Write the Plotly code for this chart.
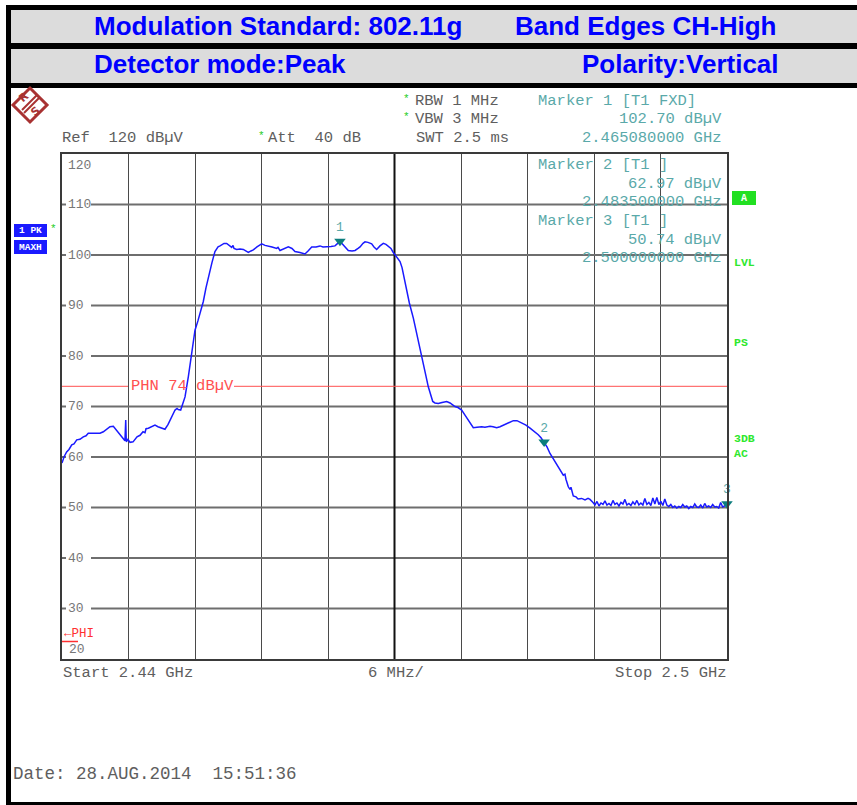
import plotly.graph_objects as go

# ---------------- data ----------------
start_mhz = 2440.0
stop_mhz = 2500.0
div_mhz = 6.0

trace_offset_mhz = [
    0.00, 0.18, 0.42, 0.63, 0.88, 1.08, 1.33, 1.62, 1.92, 2.17, 2.37, 2.71, 3.13, 3.43, 3.73, 4.06,
    4.33, 4.63, 4.94, 5.14, 5.39, 5.59, 5.68, 5.75, 5.80, 5.95, 6.14, 6.41, 6.59, 6.77, 7.04, 7.31,
    7.49, 7.58, 7.79, 8.12, 8.39, 8.66, 9.02, 9.29, 9.56, 9.74, 10.02, 10.20, 10.38, 10.49, 10.71,
    10.92, 11.10, 11.40, 11.70, 12.00, 12.27, 12.45, 12.75, 12.99, 13.20, 13.53, 13.80, 14.08, 14.26,
    14.62, 14.86, 15.07, 15.31, 15.43, 15.52, 15.76, 16.06, 16.36, 16.60, 16.81, 17.05, 17.26, 17.59,
    18.02, 18.32, 18.61, 18.95, 19.37, 19.49, 19.67, 20.03, 20.42, 20.75, 21.02, 21.47, 21.92, 22.20,
    22.53, 22.92, 23.28, 23.55, 23.88, 24.27, 24.63, 24.90, 25.08, 25.38, 25.62, 25.83, 26.17, 26.44,
    26.71, 26.89, 27.16, 27.34, 27.61, 27.94, 28.15, 28.39, 28.69, 28.99, 29.23, 29.44, 29.68, 29.86,
    30.05,
    30.32, 30.50, 30.68, 30.95, 31.34, 31.70, 32.12, 32.60, 32.84, 33.05,
    33.25, 33.45, 33.65, 33.95, 34.29, 34.71, 35.01, 35.46, 35.73, 36.06,
    36.36, 36.66, 36.90, 37.11, 37.44, 37.87, 38.16, 38.62, 38.89, 39.22,
    39.52, 39.97, 40.33, 40.72, 41.05, 41.48, 41.86, 42.23, 42.59, 42.97,
    43.22, 43.49, 43.76, 44.03, 44.30, 44.63, 44.93, 45.23, 45.38, 45.47,
    45.68, 45.83, 45.92, 46.13, 46.38, 46.56, 46.89, 47.19, 47.46, 47.64,
    47.91,
    48.09, 48.27, 48.45, 48.63, 48.81, 48.99, 49.17, 49.35, 49.53, 49.71,
    49.89, 50.07, 50.25, 50.43, 50.61, 50.79, 50.97, 51.15, 51.33, 51.51,
    51.69, 51.87, 52.05, 52.23, 52.41, 52.59, 52.77, 52.95, 53.13, 53.31,
    53.49, 53.67, 53.85, 54.03, 54.21, 54.39, 54.57, 54.75, 54.93, 55.11,
    55.29, 55.47, 55.65, 55.83, 56.01, 56.19, 56.37, 56.55, 56.73, 56.91,
    57.09, 57.27, 57.45, 57.63, 57.81, 57.99, 58.17, 58.35, 58.53, 58.71,
    58.89, 59.07, 59.25, 59.43, 59.61, 59.79, 60.00,
]

trace_level_dbuv = [
    58.8, 60.0, 61.0, 61.5, 62.4, 62.6, 63.4, 63.5, 64.0, 64.2, 64.7, 64.7, 64.8, 64.7, 65.0, 65.5,
    66.0, 66.1, 65.3, 64.7, 64.0, 63.4, 63.2, 67.3, 63.0, 63.5, 62.9, 63.0, 63.4, 64.0, 64.3, 65.0,
    64.8, 65.6, 65.7, 66.0, 66.3, 66.0, 65.8, 65.5, 66.4, 67.3, 68.5, 69.3, 69.6, 69.4, 69.3,
    70.5, 71.9, 75.9, 80.5, 85.1, 87.0, 88.4, 90.8, 93.5, 95.7, 98.5, 100.7, 101.6, 101.8,
    102.3, 102.3, 101.9, 101.5, 101.9, 101.3, 101.1, 101.2, 101.1, 100.7, 100.5, 100.8, 101.0, 101.6,
    102.2, 101.9, 101.8, 101.6, 101.3, 101.5, 100.9, 101.2, 101.6, 101.3, 100.7, 100.5, 100.2, 100.8,
    101.6, 101.6, 101.8, 101.6, 101.6, 101.7, 101.8, 102.3, 102.7, 102.0, 101.3, 100.9, 100.8, 100.9,
    101.3, 101.6, 102.3, 102.6, 102.5, 102.2, 101.6, 101.1, 101.8, 102.3, 102.1, 101.8, 101.3, 100.6,
    100.0,
    99.2, 98.7, 97.5, 94.4, 90.5, 87.5, 83.5, 78.6, 76.0, 73.9,
    72.2, 71.0, 70.7, 70.6, 70.8, 71.0, 70.7, 70.0, 69.8, 69.3,
    68.3, 67.3, 66.3, 65.8, 65.9, 66.0, 65.9, 66.1, 66.0, 65.8,
    66.0, 66.5, 66.9, 67.2, 67.2, 66.8, 66.3, 65.7, 65.1, 64.4,
    63.8, 63.0, 62.0, 60.7, 59.7, 58.7, 57.6, 56.4, 56.6, 55.6,
    54.1, 53.6, 54.0, 52.3, 52.1, 51.7, 51.8, 51.5, 51.8, 51.6,
    51.0,
    50.5, 51.2, 50.3, 50.9, 50.6, 51.3, 50.5, 50.8, 50.4, 51.4,
    50.6, 50.9, 50.3, 51.0, 50.7, 51.6, 50.5, 50.8, 50.4, 51.1,
    50.6, 51.4, 50.5, 50.9, 50.5, 51.8, 50.6, 51.0, 50.4, 51.9,
    50.7, 52.0, 50.6, 51.2, 50.4, 51.7, 50.5, 50.2, 50.6, 50.0,
    50.3, 49.9, 50.2, 50.0, 50.6, 50.1, 50.3, 49.8, 50.2, 50.0,
    50.7, 50.1, 50.0, 50.5, 49.9, 50.8, 50.1, 50.3, 50.0, 50.6,
    50.1, 50.2, 49.9, 51.0, 50.1, 50.3, 50.74,
]
assert len(trace_offset_mhz) == len(trace_level_dbuv)

marker_freq_mhz = [2465.08, 2483.50, 2500.00]
marker_level_dbuv = [102.70, 62.97, 50.74]
marker_ids = ["1", "2", "3"]

y_tick_values = [110, 100, 90, 80, 70, 60, 50, 40, 30]
limit_level_dbuv = 74

# ---------------- geometry helpers ----------------
W, H = 857, 805
L, R, T, B = 62, 727, 154, 659


def xp(px):
    return (px - L) / (R - L)


def yp(py):
    return (B - py) / (B - T)


def xd(px):
    return start_mhz + (px - L) / (R - L) * (stop_mhz - start_mhz)


MONO = "Liberation Mono, Courier New, monospace"
SANS = "Liberation Sans, Arial, sans-serif"
GRAY = "#5e5e5e"
TEAL = "#5aa9a9"
BLUE = "#0000ff"
GREEN = "#2ee82e"
RED = "#ff5050"

fig = go.Figure()

fig.add_trace(go.Scatter(
    x=[start_mhz + o for o in trace_offset_mhz], y=trace_level_dbuv,
    mode="lines", line=dict(color="#1a1aff", width=1.5), hoverinfo="skip",
))
fig.add_trace(go.Scatter(
    x=marker_freq_mhz, y=marker_level_dbuv, mode="markers+text",
    marker=dict(symbol="triangle-down", size=10, color="#0b7d7d"),
    text=marker_ids, textposition="top center",
    textfont=dict(family=MONO, size=13, color=TEAL), cliponaxis=False, hoverinfo="skip",
))

shapes = []


def prect(x0, y0, x1, y1, color):
    shapes.append(dict(type="rect", xref="paper", yref="paper",
                       x0=xp(x0), x1=xp(x1), y0=yp(y0), y1=yp(y1),
                       fillcolor=color, line=dict(width=0), layer="above"))


def pline(x0, y0, x1, y1, color, width):
    shapes.append(dict(type="line", xref="paper", yref="paper",
                       x0=xp(x0), x1=xp(x1), y0=yp(y0), y1=yp(y1),
                       line=dict(color=color, width=width), layer="above"))


# outer frame and header
prect(6, 5, 857, 10, "black")
prect(6, 5, 11, 805, "black")
prect(11, 10, 857, 43, "#dcdcdc")
prect(11, 43, 857, 49, "black")
prect(11, 49, 857, 83, "#dcdcdc")
prect(11, 83, 857, 88, "black")
prect(6, 802, 857, 805, "black")

# horizontal grid lines with gap for inner labels
for v in y_tick_values:
    shapes.append(dict(type="line", xref="x", yref="y", x0=start_mhz, x1=xd(66), y0=v, y1=v,
                       line=dict(color="#6e6e6e", width=2), layer="between"))
    shapes.append(dict(type="line", xref="x", yref="y", x0=xd(91), x1=stop_mhz, y0=v, y1=v,
                       line=dict(color="#6e6e6e", width=2), layer="between"))

# center line
shapes.append(dict(type="line", xref="x", yref="y", x0=(start_mhz + stop_mhz) / 2,
                   x1=(start_mhz + stop_mhz) / 2, y0=20, y1=120,
                   line=dict(color="#111111", width=2), layer="between"))

# limit line (split around its label)
shapes.append(dict(type="line", xref="x", yref="y", x0=start_mhz, x1=xd(128),
                   y0=limit_level_dbuv, y1=limit_level_dbuv, line=dict(color=RED, width=1), layer="between"))
shapes.append(dict(type="line", xref="x", yref="y", x0=xd(234), x1=stop_mhz,
                   y0=limit_level_dbuv, y1=limit_level_dbuv, line=dict(color=RED, width=1), layer="between"))

# PHI small red line
pline(62, 641.5, 78, 641.5, "#ff3030", 1.5)

# left trace info boxes
prect(14, 224, 47, 237, "#1a1aff")
prect(14, 240, 47, 254, "#1a1aff")
# right "A" box
prect(732, 191, 756, 205, "#22e022")

# R&S logo
lc = "#a83232"
cx, cy, rr = 30, 105, 17
shapes.append(dict(type="path", xref="paper", yref="paper",
                   path=f"M {xp(cx)},{yp(cy-rr)} L {xp(cx+rr)},{yp(cy)} L {xp(cx)},{yp(cy+rr)} L {xp(cx-rr)},{yp(cy)} Z",
                   line=dict(color=lc, width=3), fillcolor="white", layer="above"))
pline(22, 110, 37, 95, lc, 2)
pline(24, 113, 39, 98, lc, 2)

annotations = []


def ann(text, x, y, anchor="left", size=15.5, color=GRAY, family=MONO, weight="normal",
        yref="paper", bg=None, angle=0):
    a = dict(text=text, x=xp(x), xref="paper", y=(yp(y) if yref == "paper" else y), yref=yref,
             xanchor=anchor, yanchor="middle", showarrow=False, borderpad=0, textangle=angle,
             font=dict(family=family, size=size, color=color, weight=weight))
    if bg:
        a["bgcolor"] = bg
    annotations.append(a)


# header
ann("Modulation Standard: 802.11g", 93, 26, size=26, color=BLUE, family=SANS, weight="bold")
ann("Band Edges CH-High", 514, 26, size=26, color=BLUE, family=SANS, weight="bold")
ann("Detector mode:Peak", 93, 64, size=26, color=BLUE, family=SANS, weight="bold")
ann("Polarity:Vertical", 780, 64, anchor="right", size=26, color=BLUE, family=SANS, weight="bold")

# instrument settings
ann("RBW 1 MHz", 414, 101)
ann("VBW 3 MHz", 414, 119)
ann("SWT 2.5 ms", 415, 138)
ann("Ref  120 dBµV", 61, 138)
ann("Att  40 dB", 267, 138)
for sx, sy in [(406, 99), (406, 117), (261, 136), (53, 229)]:
    ann("*", sx, sy, anchor="center", size=11, color="#22cc22")

# marker info
ann("Marker 1 [T1 FXD]", 537, 101, color=TEAL)
ann("102.70 dBµV", 723, 119, anchor="right", color=TEAL)
ann("2.465080000 GHz", 723, 138, anchor="right", color=TEAL)
ann("Marker 2 [T1 ]", 537, 165, color=TEAL)
ann("62.97 dBµV", 723, 184, anchor="right", color=TEAL)
ann("2.483500000 GHz", 723, 202, anchor="right", color=TEAL)
ann("Marker 3 [T1 ]", 537, 221, color=TEAL)
ann("50.74 dBµV", 723, 240, anchor="right", color=TEAL)
ann("2.500000000 GHz", 723, 258, anchor="right", color=TEAL)

# inner level labels
for v in y_tick_values:
    ann(str(v), 67, v, size=13, color="#777777", yref="y")
ann("120", 67, 165, size=13, color="#777777")
ann("20", 68, 649, size=13, color="#777777")

# limit labels
ann("PHN 74 dBµV", 130, limit_level_dbuv, color=RED, yref="y")
ann("←PHI", 63, 634, size=12.5, color="#ff3030")

# left/right status labels
ann("1 PK", 30.5, 230.5, anchor="center", size=9.5, color="white", weight="bold")
ann("MAXH", 30.5, 247, anchor="center", size=9.5, color="white", weight="bold")
ann("A", 744, 198, anchor="center", size=10, color="white", weight="bold")
for txt, yy in [("LVL", 262), ("PS", 342), ("3DB", 438), ("AC", 453)]:
    ann(txt, 733, yy, size=11.5, color=GREEN, weight="bold")

# bottom
ann("Start 2.44 GHz", 62, 673)
ann("6 MHz/", 367, 673)
ann("Stop 2.5 GHz", 728, 673, anchor="right")
ann("Date: 28.AUG.2014  15:51:36", 12, 774, size=17.5)

# logo letters
ann("R", 24, 98, anchor="center", size=11, color=lc, family="DejaVu Sans", weight="bold", angle=-40)
ann("S", 36, 112, anchor="center", size=11, color=lc, family="DejaVu Sans", weight="bold", angle=-40)

fig.update_layout(
    width=W, height=H, autosize=False,
    margin=dict(l=L, r=W - R, t=T, b=H - B, pad=0),
    paper_bgcolor="white", plot_bgcolor="white",
    showlegend=False,
    shapes=shapes, annotations=annotations,
    xaxis=dict(range=[start_mhz, stop_mhz], tick0=start_mhz, dtick=div_mhz, showgrid=True,
               gridcolor="#4a4a4a", gridwidth=1.2, showticklabels=False, ticks="",
               zeroline=False, showline=True, mirror=True, linecolor="#3a3a3a", linewidth=2,
               fixedrange=True),
    yaxis=dict(range=[20, 120], dtick=10, showgrid=False, showticklabels=False, ticks="",
               zeroline=False, showline=True, mirror=True, linecolor="#3a3a3a", linewidth=2,
               fixedrange=True),
)

fig.write_html("out.html", config={"displayModeBar": False},
               post_script="document.body.style.margin='0';")
